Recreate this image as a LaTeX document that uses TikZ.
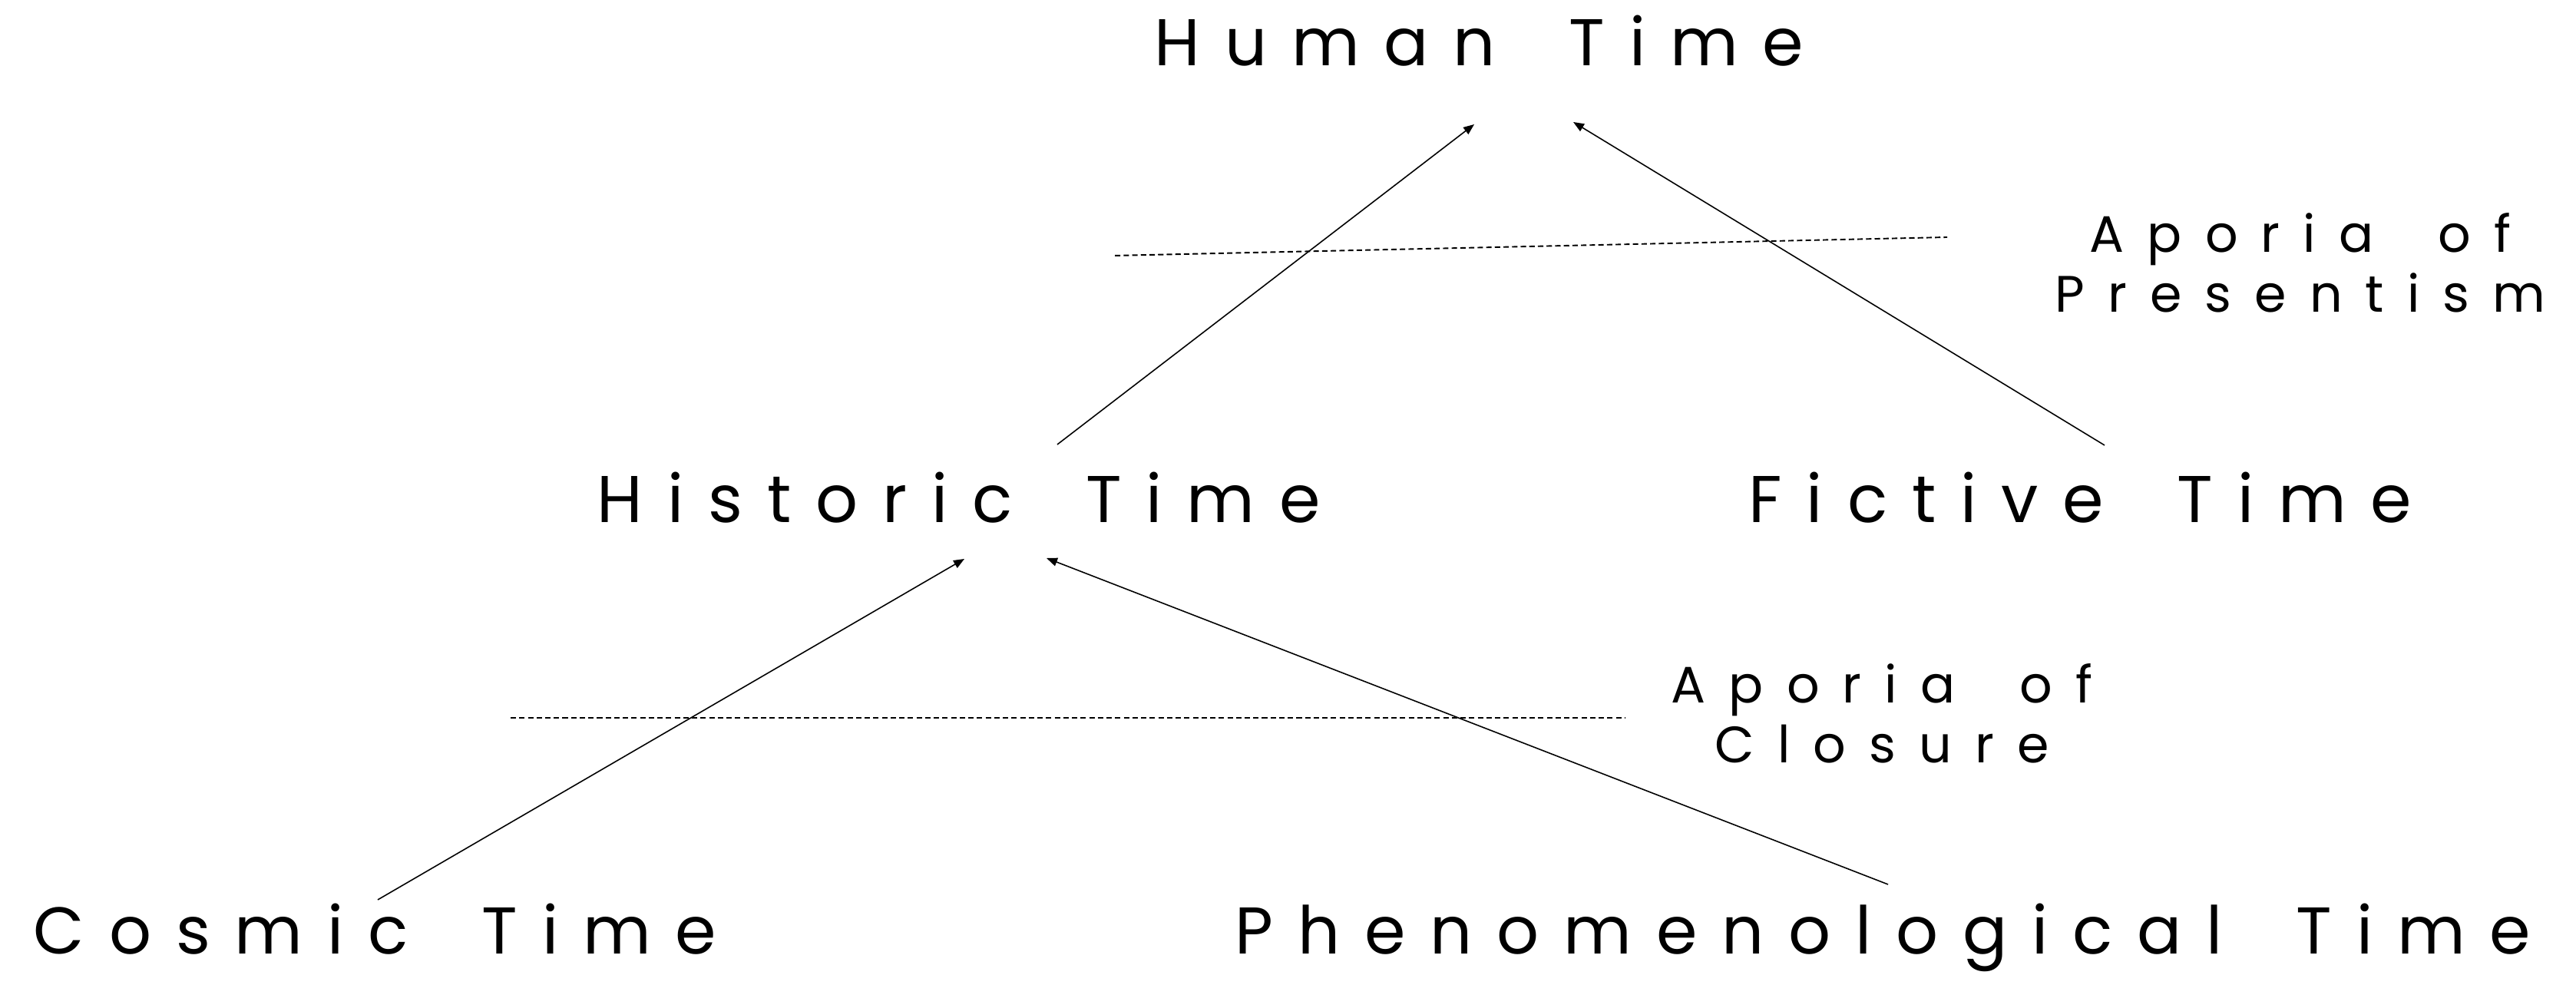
\documentclass[tikz,border=0pt]{standalone}
\usepackage{fontspec}
\setmainfont{Poppins}
\newfontfamily\spacedfont{Poppins}[LetterSpace=37,WordSpace=1.75]
\newfontfamily\aporiafont{Poppins}[LetterSpace=45,WordSpace=1.75]
\usetikzlibrary{arrows.meta}
\tikzset{
  term/.style={inner sep=0pt, anchor=base west, font=\spacedfont\fontsize{24.5}{29}\selectfont},
  aporia/.style={inner sep=0pt, align=center, anchor=base, font=\aporiafont\fontsize{19}{22.2}\selectfont},
  arr/.style={-{Triangle[length=1.4mm,width=1.1mm]}, line width=0.45pt},
  sepline/.style={dash pattern=on 2pt off 1.2pt, line width=0.55pt}
}
\begin{document}
\begin{tikzpicture}
\useasboundingbox (0,0) rectangle (33.55,12.83);
\node[term] (human) at (15.03,11.97) {Human Time};
\node[term] (historic) at (7.77,6.02) {Historic Time};
\node[term] (fictive) at (22.77,6.02) {Fictive Time};
\node[term] (cosmic) at (0.43,0.40) {Cosmic Time};
\node[term] (phen) at (16.08,0.40) {Phenomenological Time};
\node[aporia] (presentism) at (29.96,8.76) {Aporia of\\Presentism};
\node[aporia] (closure) at (24.51,2.89) {Aporia of\\Closure};

\coordinate (p1) at (14.52,9.50);
\coordinate (p2) at (25.36,9.74);
\draw[sepline] (p1) -- (p2);
\coordinate (c1) at (6.65,3.48);
\coordinate (c2) at (21.16,3.48);
\draw[sepline] (c1) -- (c2);

\draw[arr] ([shift={(6.00,1.02)}]historic.base west) -- ([shift={(4.17,-0.76)}]human.base west);
\draw[arr] ([shift={(4.64,1.01)}]fictive.base west) -- ([shift={(5.46,-0.73)}]human.base west);
\draw[arr] ([shift={(4.49,0.71)}]cosmic.base west) -- ([shift={(4.79,-0.47)}]historic.base west);
\draw[arr] ([shift={(8.51,0.91)}]phen.base west) -- ([shift={(5.86,-0.46)}]historic.base west);
\end{tikzpicture}
\end{document}
